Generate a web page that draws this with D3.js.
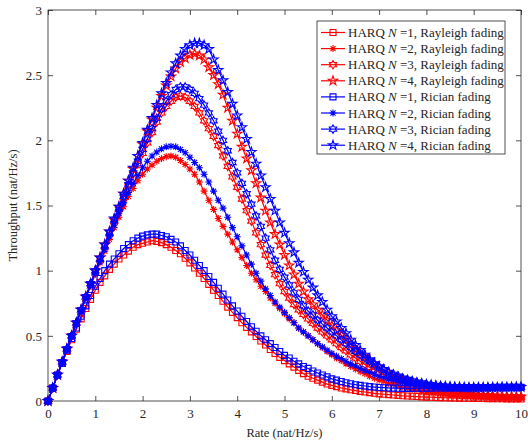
<!DOCTYPE html>
<html>
<head>
<meta charset="utf-8">
<script src="https://cdn.jsdelivr.net/npm/d3@7"></script>
<style>
  body { margin: 0; background: #fff; }
  svg text { font-family: "Liberation Serif", "Times New Roman", serif; fill: #262626; }
</style>
</head>
<body>
<svg id="chart" width="528" height="443"></svg>
<script>
// rate grid (nat/Hz/s)
const rate = [
  0.0, 0.1, 0.2, 0.3, 0.4, 0.5, 0.6, 0.7, 0.8, 0.9,
  1.0, 1.1, 1.2, 1.3, 1.4, 1.5, 1.6, 1.7, 1.8, 1.9,
  2.0, 2.1, 2.2, 2.3, 2.4, 2.5, 2.6, 2.7, 2.8, 2.9,
  3.0, 3.1, 3.2, 3.3, 3.4, 3.5, 3.6, 3.7, 3.8, 3.9,
  4.0, 4.1, 4.2, 4.3, 4.4, 4.5, 4.6, 4.7, 4.8, 4.9,
  5.0, 5.1, 5.2, 5.3, 5.4, 5.5, 5.6, 5.7, 5.8, 5.9,
  6.0, 6.1, 6.2, 6.3, 6.4, 6.5, 6.6, 6.7, 6.8, 6.9,
  7.0, 7.1, 7.2, 7.3, 7.4, 7.5, 7.6, 7.7, 7.8, 7.9,
  8.0, 8.1, 8.2, 8.3, 8.4, 8.5, 8.6, 8.7, 8.8, 8.9,
  9.0, 9.1, 9.2, 9.3, 9.4, 9.5, 9.6, 9.7, 9.8, 9.9,
  10.0
];

// throughput, Rayleigh fading
const rayleighN1 = [
  0, 0.10, 0.20, 0.29, 0.38, 0.47, 0.55, 0.63, 0.71, 0.78,
  0.85, 0.91, 0.96, 1.01, 1.05, 1.09, 1.12, 1.15, 1.18, 1.20,
  1.21, 1.22, 1.23, 1.225, 1.215, 1.20, 1.18, 1.155, 1.13, 1.095,
  1.06, 1.02, 0.98, 0.94, 0.895, 0.85, 0.81, 0.765, 0.72, 0.68,
  0.64, 0.60, 0.565, 0.53, 0.495, 0.46, 0.43, 0.395, 0.365, 0.335,
  0.31, 0.285, 0.26, 0.235, 0.21, 0.19, 0.175, 0.16, 0.145, 0.13,
  0.12, 0.11, 0.10, 0.093, 0.086, 0.08, 0.074, 0.069, 0.064, 0.059,
  0.055, 0.052, 0.049, 0.046, 0.043, 0.04, 0.038, 0.036, 0.034, 0.032,
  0.03, 0.029, 0.027, 0.026, 0.025, 0.024, 0.023, 0.022, 0.021, 0.021,
  0.02, 0.019, 0.019, 0.018, 0.018, 0.017, 0.017, 0.016, 0.016, 0.015,
  0.015
];
const rayleighN2 = [
  0, 0.10, 0.20, 0.30, 0.40, 0.50, 0.59, 0.69, 0.79, 0.88,
  0.97, 1.06, 1.15, 1.24, 1.33, 1.41, 1.49, 1.57, 1.63, 1.69,
  1.74, 1.78, 1.81, 1.84, 1.86, 1.875, 1.88, 1.87, 1.845, 1.815,
  1.78, 1.74, 1.68, 1.61, 1.54, 1.47, 1.40, 1.34, 1.28, 1.22,
  1.16, 1.10, 1.04, 0.98, 0.93, 0.88, 0.84, 0.79, 0.75, 0.71,
  0.67, 0.63, 0.60, 0.56, 0.53, 0.50, 0.47, 0.44, 0.41, 0.38,
  0.355, 0.33, 0.31, 0.285, 0.265, 0.245, 0.225, 0.21, 0.19, 0.175,
  0.16, 0.148, 0.136, 0.125, 0.115, 0.105, 0.097, 0.09, 0.083, 0.076,
  0.07, 0.066, 0.062, 0.058, 0.054, 0.05, 0.048, 0.045, 0.043, 0.04,
  0.038, 0.036, 0.035, 0.033, 0.032, 0.03, 0.029, 0.028, 0.027, 0.026,
  0.025
];
const rayleighN3 = [
  0, 0.10, 0.20, 0.30, 0.40, 0.50, 0.60, 0.70, 0.80, 0.90,
  0.99, 1.09, 1.19, 1.29, 1.38, 1.47, 1.56, 1.65, 1.74, 1.82,
  1.90, 1.98, 2.06, 2.14, 2.21, 2.26, 2.30, 2.33, 2.34, 2.33,
  2.30, 2.26, 2.21, 2.15, 2.09, 2.03, 1.96, 1.88, 1.80, 1.72,
  1.64, 1.55, 1.46, 1.38, 1.29, 1.20, 1.12, 1.04, 0.97, 0.90,
  0.84, 0.79, 0.74, 0.70, 0.665, 0.63, 0.595, 0.56, 0.53, 0.50,
  0.47, 0.44, 0.41, 0.385, 0.355, 0.33, 0.305, 0.28, 0.26, 0.24,
  0.22, 0.20, 0.185, 0.17, 0.155, 0.14, 0.13, 0.12, 0.11, 0.10,
  0.09, 0.084, 0.078, 0.072, 0.066, 0.06, 0.057, 0.054, 0.051, 0.048,
  0.045, 0.043, 0.041, 0.039, 0.037, 0.035, 0.034, 0.033, 0.032, 0.031,
  0.03
];
const rayleighN4 = [
  0, 0.10, 0.20, 0.30, 0.40, 0.50, 0.60, 0.70, 0.80, 0.90,
  1.00, 1.10, 1.20, 1.30, 1.39, 1.49, 1.59, 1.69, 1.78, 1.88,
  1.97, 2.07, 2.16, 2.25, 2.34, 2.42, 2.49, 2.55, 2.60, 2.63,
  2.655, 2.665, 2.65, 2.62, 2.56, 2.50, 2.43, 2.35, 2.25, 2.15,
  2.05, 1.95, 1.86, 1.77, 1.67, 1.56, 1.46, 1.37, 1.28, 1.20,
  1.12, 1.04, 0.97, 0.90, 0.84, 0.78, 0.74, 0.70, 0.66, 0.62,
  0.58, 0.54, 0.505, 0.47, 0.435, 0.40, 0.37, 0.34, 0.31, 0.285,
  0.26, 0.24, 0.215, 0.195, 0.178, 0.16, 0.147, 0.135, 0.123, 0.112,
  0.10, 0.093, 0.086, 0.079, 0.072, 0.066, 0.062, 0.058, 0.054, 0.05,
  0.047, 0.045, 0.043, 0.041, 0.039, 0.037, 0.036, 0.035, 0.034, 0.033,
  0.032
];

// throughput, Rician fading
const ricianN1 = [
  0, 0.10, 0.20, 0.29, 0.39, 0.48, 0.56, 0.65, 0.73, 0.81,
  0.88, 0.94, 1.00, 1.05, 1.09, 1.13, 1.17, 1.20, 1.23, 1.25,
  1.265, 1.275, 1.28, 1.28, 1.27, 1.26, 1.24, 1.22, 1.19, 1.155,
  1.12, 1.08, 1.04, 1.00, 0.955, 0.91, 0.865, 0.82, 0.775, 0.73,
  0.69, 0.65, 0.61, 0.57, 0.535, 0.50, 0.47, 0.44, 0.41, 0.38,
  0.35, 0.33, 0.305, 0.285, 0.265, 0.25, 0.23, 0.215, 0.20, 0.185,
  0.17, 0.16, 0.15, 0.14, 0.132, 0.125, 0.12, 0.115, 0.11, 0.107,
  0.104, 0.102, 0.100, 0.099, 0.098, 0.097, 0.097, 0.097, 0.098, 0.098,
  0.099, 0.099, 0.100, 0.100, 0.101, 0.101, 0.102, 0.102, 0.102, 0.103,
  0.103, 0.103, 0.104, 0.104, 0.104, 0.105, 0.105, 0.105, 0.106, 0.106,
  0.106
];
const ricianN2 = [
  0, 0.10, 0.20, 0.30, 0.40, 0.50, 0.60, 0.69, 0.79, 0.89,
  0.98, 1.07, 1.16, 1.26, 1.35, 1.44, 1.52, 1.60, 1.67, 1.73,
  1.79, 1.84, 1.88, 1.91, 1.935, 1.95, 1.955, 1.95, 1.93, 1.905,
  1.87, 1.83, 1.79, 1.74, 1.68, 1.61, 1.54, 1.48, 1.41, 1.33,
  1.26, 1.19, 1.12, 1.05, 0.98, 0.92, 0.86, 0.81, 0.76, 0.72,
  0.68, 0.64, 0.60, 0.56, 0.53, 0.50, 0.47, 0.44, 0.415, 0.39,
  0.365, 0.345, 0.325, 0.305, 0.285, 0.27, 0.25, 0.235, 0.22, 0.205,
  0.19, 0.18, 0.17, 0.16, 0.15, 0.145, 0.138, 0.132, 0.126, 0.122,
  0.118, 0.115, 0.112, 0.11, 0.108, 0.106, 0.105, 0.104, 0.103, 0.103,
  0.103, 0.103, 0.104, 0.104, 0.104, 0.105, 0.105, 0.105, 0.106, 0.106,
  0.107
];
const ricianN3 = [
  0, 0.10, 0.20, 0.30, 0.40, 0.50, 0.60, 0.70, 0.80, 0.90,
  1.00, 1.09, 1.19, 1.29, 1.39, 1.48, 1.57, 1.66, 1.75, 1.84,
  1.93, 2.01, 2.09, 2.17, 2.24, 2.30, 2.35, 2.39, 2.41, 2.41,
  2.39, 2.36, 2.32, 2.27, 2.21, 2.15, 2.07, 2.00, 1.92, 1.83,
  1.75, 1.67, 1.59, 1.51, 1.42, 1.34, 1.25, 1.16, 1.08, 1.01,
  0.95, 0.89, 0.83, 0.78, 0.73, 0.69, 0.66, 0.62, 0.59, 0.56,
  0.53, 0.50, 0.47, 0.44, 0.41, 0.38, 0.355, 0.33, 0.305, 0.28,
  0.26, 0.24, 0.22, 0.205, 0.19, 0.175, 0.165, 0.155, 0.145, 0.138,
  0.13, 0.125, 0.12, 0.116, 0.113, 0.11, 0.108, 0.106, 0.105, 0.104,
  0.104, 0.104, 0.104, 0.104, 0.105, 0.105, 0.105, 0.106, 0.106, 0.106,
  0.107
];
const ricianN4 = [
  0, 0.10, 0.20, 0.30, 0.40, 0.50, 0.60, 0.70, 0.80, 0.90,
  1.00, 1.10, 1.20, 1.30, 1.40, 1.49, 1.59, 1.69, 1.79, 1.88,
  1.98, 2.08, 2.17, 2.27, 2.36, 2.44, 2.52, 2.59, 2.65, 2.70,
  2.73, 2.745, 2.745, 2.73, 2.70, 2.62, 2.54, 2.46, 2.37, 2.28,
  2.19, 2.10, 2.01, 1.91, 1.82, 1.73, 1.64, 1.55, 1.46, 1.37,
  1.29, 1.21, 1.14, 1.06, 0.99, 0.93, 0.87, 0.81, 0.76, 0.70,
  0.65, 0.61, 0.56, 0.52, 0.47, 0.43, 0.39, 0.355, 0.32, 0.29,
  0.265, 0.24, 0.22, 0.20, 0.185, 0.17, 0.158, 0.148, 0.14, 0.133,
  0.127, 0.122, 0.118, 0.114, 0.111, 0.109, 0.107, 0.106, 0.105, 0.104,
  0.104, 0.104, 0.105, 0.105, 0.105, 0.105, 0.106, 0.106, 0.106, 0.107,
  0.107
];

const xTicks = [0, 1, 2, 3, 4, 5, 6, 7, 8, 9, 10];
const yTicks = [0, 0.5, 1, 1.5, 2, 2.5, 3];
const legendLabels = [
  ["=1, Rayleigh fading", "=2, Rayleigh fading", "=3, Rayleigh fading", "=4, Rayleigh fading"],
  ["=1, Rician fading", "=2, Rician fading", "=3, Rician fading", "=4, Rician fading"]
];

// custom marker shapes, size = outer radius
const starPath = (points, inner) => ({
  draw(ctx, r) {
    for (let i = 0; i < points * 2; i++) {
      const a = -Math.PI / 2 + i * Math.PI / points;
      const rr = i % 2 ? r * inner : r;
      i ? ctx.lineTo(rr * Math.cos(a), rr * Math.sin(a)) : ctx.moveTo(rr * Math.cos(a), rr * Math.sin(a));
    }
    ctx.closePath();
  }
});
const markSquare = {
  draw(ctx, r) { ctx.rect(-r, -r, 2 * r, 2 * r); }
};
const markAsterisk = {
  draw(ctx, r) {
    const d = r * 0.72;
    ctx.moveTo(-r, 0); ctx.lineTo(r, 0);
    ctx.moveTo(0, -r); ctx.lineTo(0, r);
    ctx.moveTo(-d, -d); ctx.lineTo(d, d);
    ctx.moveTo(-d, d); ctx.lineTo(d, -d);
  }
};
const markHexagram = starPath(6, 0.577);
const markPentagram = starPath(5, 0.382);

const marks = [
  { type: markSquare, r: 3 },
  { type: markAsterisk, r: 3.5 },
  { type: markHexagram, r: 4.2 },
  { type: markPentagram, r: 4.9 }
];

const series = [
  { values: rayleighN1, color: "#ff0000", mark: 0, label: legendLabels[0][0] },
  { values: rayleighN2, color: "#ff0000", mark: 1, label: legendLabels[0][1] },
  { values: rayleighN3, color: "#ff0000", mark: 2, label: legendLabels[0][2] },
  { values: rayleighN4, color: "#ff0000", mark: 3, label: legendLabels[0][3] },
  { values: ricianN1, color: "#0000ff", mark: 0, label: legendLabels[1][0] },
  { values: ricianN2, color: "#0000ff", mark: 1, label: legendLabels[1][1] },
  { values: ricianN3, color: "#0000ff", mark: 2, label: legendLabels[1][2] },
  { values: ricianN4, color: "#0000ff", mark: 3, label: legendLabels[1][3] }
];

const svg = d3.select("#chart");
const margin = { top: 10, right: 7, bottom: 42, left: 48 };
const width = +svg.attr("width") - margin.left - margin.right;
const height = +svg.attr("height") - margin.top - margin.bottom;

const x = d3.scaleLinear().domain([0, 10]).range([margin.left, margin.left + width]);
const y = d3.scaleLinear().domain([0, 3]).range([margin.top + height, margin.top]);

svg.append("rect")
  .attr("width", 528).attr("height", 443).attr("fill", "#fff");

// axes, ticks pointing inward
const axisColor = "#262626";
function styleAxis(g) {
  g.select(".domain").remove();
  g.selectAll(".tick line").attr("stroke", axisColor).attr("stroke-width", 0.8);
  g.selectAll(".tick text")
    .attr("font-size", 13)
    .attr("fill", axisColor)
    .style("font-family", "'Liberation Serif', serif");
}

svg.append("g")
  .attr("transform", `translate(0,${margin.top + height})`)
  .call(d3.axisBottom(x).tickValues(xTicks).tickSize(-5).tickPadding(8).tickFormat(d => String(d)))
  .call(styleAxis);

svg.append("g")
  .attr("transform", `translate(0,${margin.top})`)
  .call(d3.axisTop(x).tickValues(xTicks).tickSize(-5).tickFormat(""))
  .call(styleAxis);

svg.append("g")
  .attr("transform", `translate(${margin.left},0)`)
  .call(d3.axisLeft(y).tickValues(yTicks).tickSize(-5).tickPadding(6).tickFormat(d => String(d)))
  .call(styleAxis);

svg.append("g")
  .attr("transform", `translate(${margin.left + width},0)`)
  .call(d3.axisRight(y).tickValues(yTicks).tickSize(-5).tickFormat(""))
  .call(styleAxis);

svg.append("rect")
  .attr("x", margin.left).attr("y", margin.top)
  .attr("width", width).attr("height", height)
  .attr("fill", "none")
  .attr("stroke", axisColor)
  .attr("stroke-width", 0.8);

// axis labels
svg.append("text")
  .attr("x", margin.left + width / 2)
  .attr("y", 437)
  .attr("text-anchor", "middle")
  .attr("font-size", 12.5)
  .text("Rate (nat/Hz/s)");

svg.append("text")
  .attr("transform", `translate(17,${margin.top + height / 2}) rotate(-90)`)
  .attr("text-anchor", "middle")
  .attr("font-size", 12.5)
  .text("Throughput (nat/Hz/s)");

// curves
const line = d3.line()
  .x((d, i) => x(rate[i]))
  .y(d => y(d));

series.forEach(s => {
  const g = svg.append("g").attr("class", "series");
  g.append("path")
    .datum(s.values)
    .attr("fill", "none")
    .attr("stroke", s.color)
    .attr("stroke-width", 1.2)
    .attr("d", line);

  const m = marks[s.mark];
  g.selectAll("path.mark")
    .data(s.values)
    .enter().append("path")
    .attr("class", "mark")
    .attr("transform", (d, i) => `translate(${x(rate[i])},${y(d)})`)
    .attr("d", d3.symbol().type(m.type).size(m.r))
    .attr("fill", "none")
    .attr("stroke", s.color)
    .attr("stroke-width", 1.1);
});

// legend
const legend = svg.append("g").attr("transform", "translate(317,21)");
legend.append("rect")
  .attr("width", 188).attr("height", 133)
  .attr("fill", "#fff")
  .attr("stroke", axisColor)
  .attr("stroke-width", 0.8);

series.forEach((s, i) => {
  const yy = 11.5 + i * 16.1;
  const m = marks[s.mark];
  legend.append("line")
    .attr("x1", 4).attr("x2", 28)
    .attr("y1", yy).attr("y2", yy)
    .attr("stroke", s.color).attr("stroke-width", 1.2);
  legend.append("path")
    .attr("transform", `translate(16,${yy})`)
    .attr("d", d3.symbol().type(m.type).size(m.r))
    .attr("fill", "none")
    .attr("stroke", s.color)
    .attr("stroke-width", 1.1);
  const t = legend.append("text")
    .attr("x", 31).attr("y", yy + 4.5)
    .attr("font-size", 13);
  t.append("tspan").text("HARQ ");
  t.append("tspan").attr("font-style", "italic").text("N");
  t.append("tspan").text(" " + s.label);
});
</script>
</body>
</html>
